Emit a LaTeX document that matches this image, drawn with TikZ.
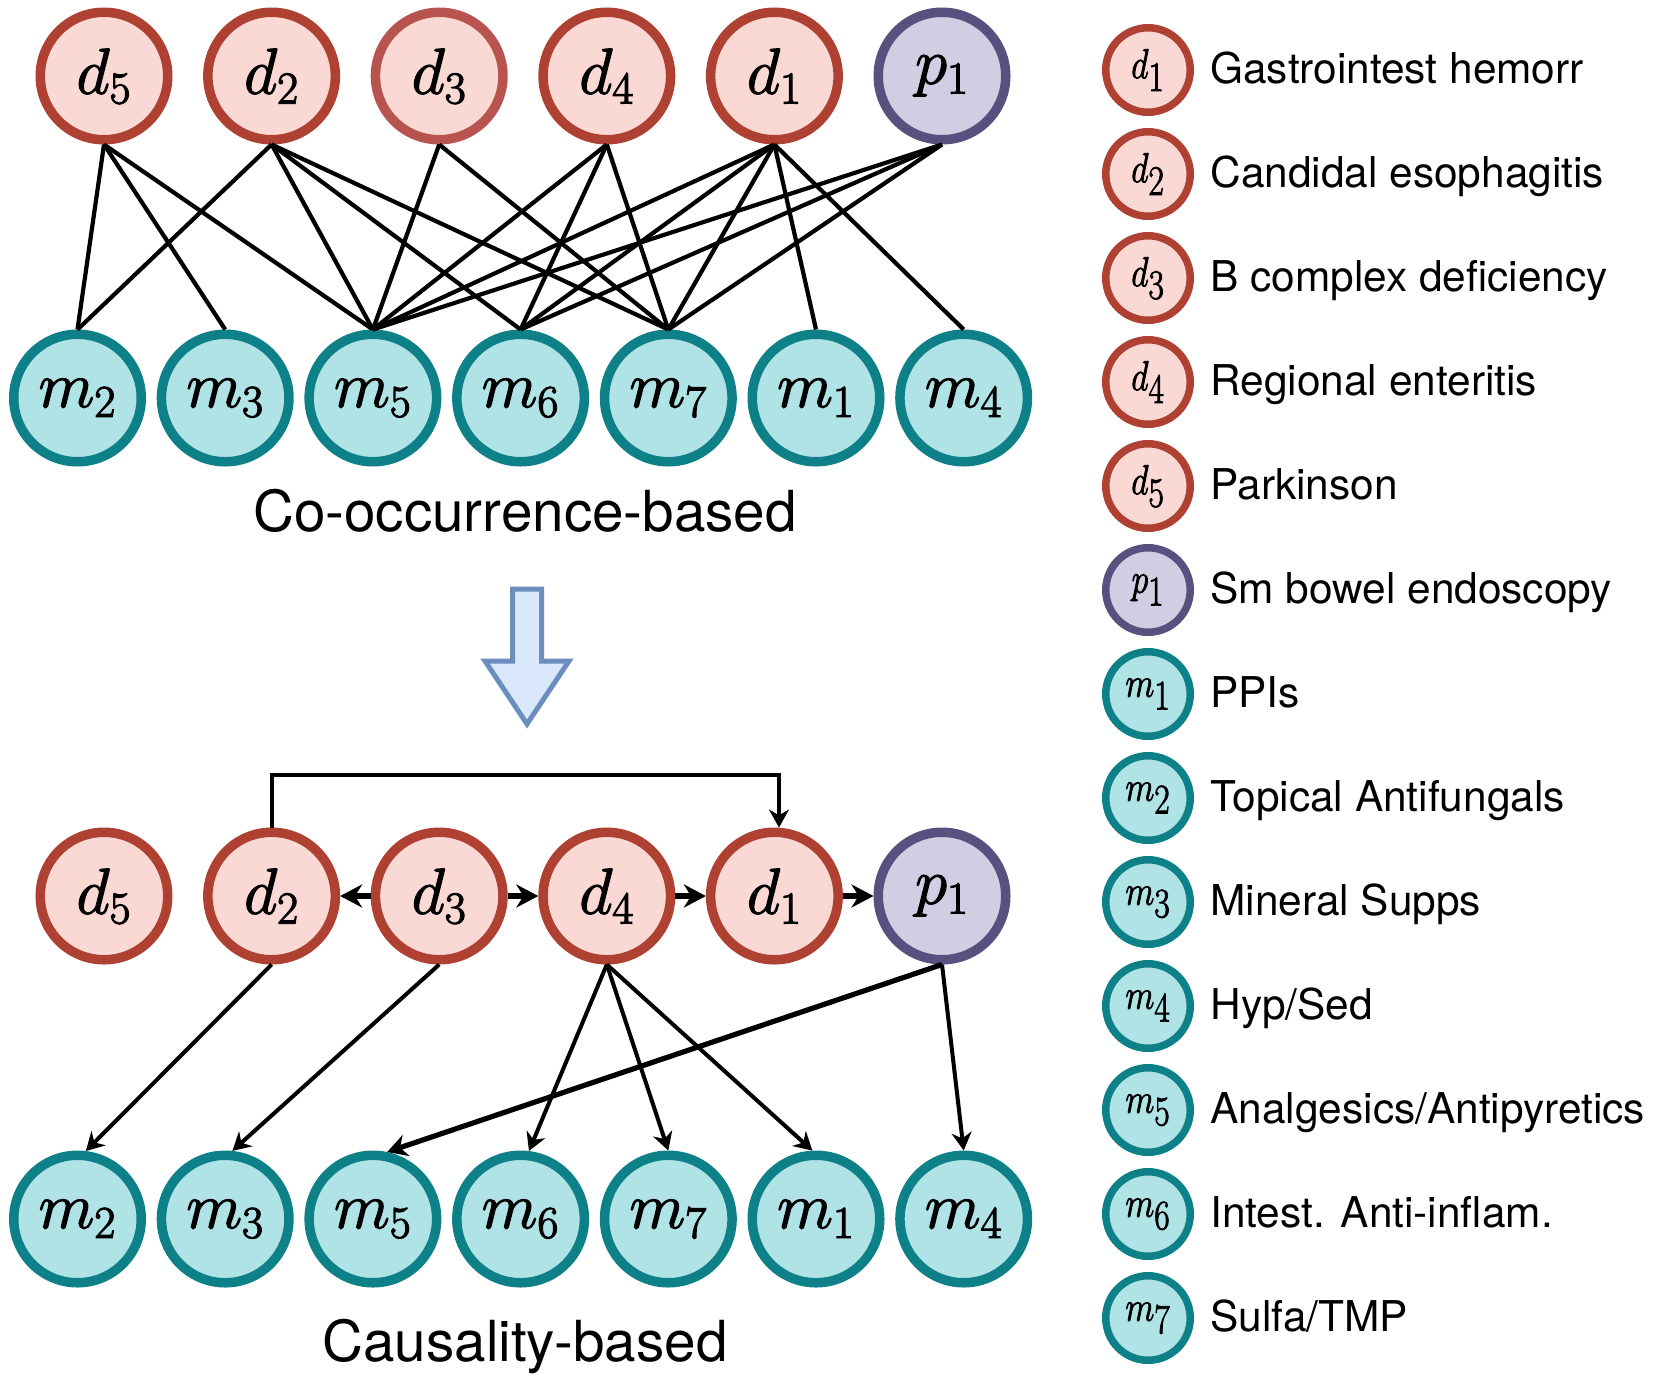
\RequirePackage{fix-cm}
\documentclass[tikz,border=0pt]{standalone}
\usepackage[no-math]{fontspec}
\newfontfamily\labfont{TeX Gyre Heros}
\usetikzlibrary{arrows.meta}
\definecolor{dfill}{HTML}{FAD9D5}
\definecolor{dstroke}{HTML}{AE4132}
\definecolor{dstrokelight}{HTML}{B85450}
\definecolor{pfill}{HTML}{D0CEE2}
\definecolor{pstroke}{HTML}{56517E}
\definecolor{mfill}{HTML}{B0E3E6}
\definecolor{mstroke}{HTML}{0E8088}
\definecolor{arrfill}{HTML}{DAE8FC}
\definecolor{arrstroke}{HTML}{6C8EBF}
% slightly heavier math glyphs (fill + thin stroke)
\newcommand\heavymath[2]{{\color{black}\special{pdf:literal direct 2 Tr #1 w}#2\special{pdf:literal direct 0 Tr}}}
\newcommand\bigmath[1]{\heavymath{0.6}{$#1$}}
\newcommand\legmath[2]{\scalebox{0.8}[1]{\heavymath{0.45}{$#1_{\textstyle #2}$}}}
\tikzset{
  big/.style={circle, minimum size=63.75pt, inner sep=0pt, line width=4.75pt, text=black, font=\fontsize{32.5}{36}\selectfont},
  dnode/.style={big, draw=dstroke, fill=dfill},
  pnode/.style={big, draw=pstroke, fill=pfill},
  mnode/.style={big, draw=mstroke, fill=mfill},
  leg/.style={circle, minimum size=42.25pt, inner sep=0pt, line width=3.75pt, text=black, font=\fontsize{21}{23}\selectfont},
  legd/.style={leg, draw=dstroke, fill=dfill},
  legp/.style={leg, draw=pstroke, fill=pfill},
  legm/.style={leg, draw=mstroke, fill=mfill},
  edge/.style={line width=2.1pt},
  arr/.style={line width=2pt, -{Stealth[length=9pt,width=10pt]}},
  midarr/.style={line width=2.6pt, -{Stealth[length=10pt,width=11pt]}},
  harr/.style={line width=3.3pt, -{Stealth[length=11pt,width=11.5pt]}},
  ltext/.style={anchor=base west, inner sep=0pt, font=\labfont\fontsize{21.2}{24}\selectfont},
  ttext/.style={anchor=base, inner sep=0pt, font=\labfont\fontsize{28.3}{32}\selectfont},
  bigarrow/.style={line width=2.5pt, draw=arrstroke, fill=arrfill, line join=miter},
}
\begin{document}
\begin{tikzpicture}[x=0.5pt, y=-0.5pt]
\useasboundingbox (0,0) rectangle (1663,1381);

% ---------- Co-occurrence-based ----------
\node[dnode] (td5) at (104,76) {\bigmath{d_5}};
\node[dnode] (td2) at (271.6,76) {\bigmath{d_2}};
\node[dnode, draw=dstrokelight] (td3) at (439.2,76) {\bigmath{d_3}};
\node[dnode] (td4) at (606.8,76) {\bigmath{d_4}};
\node[dnode] (td1) at (774.4,76) {\bigmath{d_1}};
\node[pnode] (tp1) at (942,76) {\bigmath{p_1}};

\node[mnode] (tm2) at (77.5,398) {\bigmath{m_2}};
\node[mnode] (tm3) at (225.2,398) {\bigmath{m_3}};
\node[mnode] (tm5) at (372.9,398) {\bigmath{m_5}};
\node[mnode] (tm6) at (520.6,398) {\bigmath{m_6}};
\node[mnode] (tm7) at (668.3,398) {\bigmath{m_7}};
\node[mnode] (tm1) at (816,398) {\bigmath{m_1}};
\node[mnode] (tm4) at (963.7,398) {\bigmath{m_4}};

\foreach \a/\b in {d5/m2,d5/m3,d5/m5,d2/m2,d2/m5,d2/m6,d2/m7,d3/m5,d3/m7,d4/m5,d4/m6,d4/m7,d1/m5,d1/m6,d1/m7,d1/m1,d1/m4,p1/m5,p1/m6,p1/m7}
  \draw[edge] (t\a.south) -- (t\b.north);

\node[ttext] (title1) at (525,531.7) {Co-occurrence-based};

% ---------- transition arrow ----------
\draw[bigarrow] (512.5,589) -- (541.5,589) -- (541.5,661) -- (569,661) -- (527,724) -- (485,661) -- (512.5,661) -- cycle;

% ---------- Causality-based ----------
\node[dnode] (bd5) at (104,896) {\bigmath{d_5}};
\node[dnode] (bd2) at (271.6,896) {\bigmath{d_2}};
\node[dnode] (bd3) at (439.2,896) {\bigmath{d_3}};
\node[dnode] (bd4) at (606.8,896) {\bigmath{d_4}};
\node[dnode] (bd1) at (774.4,896) {\bigmath{d_1}};
\node[pnode] (bp1) at (942,896) {\bigmath{p_1}};

\node[mnode] (bm2) at (77.5,1219) {\bigmath{m_2}};
\node[mnode] (bm3) at (225.2,1219) {\bigmath{m_3}};
\node[mnode] (bm5) at (372.9,1219) {\bigmath{m_5}};
\node[mnode] (bm6) at (520.6,1219) {\bigmath{m_6}};
\node[mnode] (bm7) at (668.3,1219) {\bigmath{m_7}};
\node[mnode] (bm1) at (816,1219) {\bigmath{m_1}};
\node[mnode] (bm4) at (963.7,1219) {\bigmath{m_4}};

\coordinate (bk) at (779,775);
\draw[arr] (bd2.north) |- (bk) -- (bk |- bd1.north);

\draw[harr] (bd3.west) -- (bd2.east);
\draw[harr] (bd3.east) -- (bd4.west);
\draw[harr] (bd4.east) -- (bd1.west);
\draw[harr] (bd1.east) -- (bp1.west);

\draw[arr] (bd2.south) -- (bm2.83);
\draw[arr] (bd3.south) -- (bm3.84);
\draw[arr] (bd4.south) -- (bm6.83);
\draw[arr] (bd4.south) -- (bm7.north);
\draw[arr] (bd4.south) -- (bm1.93);
\draw[midarr] (bp1.south) -- (bm5.78);
\draw[arr] (bp1.south) -- (bm4.north);

\node[ttext] (title2) at (525,1361.7) {Causality-based};

% ---------- legend ----------
\node[legd] (l1) at (1148,70) {\legmath{d}{1}};
\node[ltext] (t1) at (1210,83.5) {Gastrointest hemorr};
\node[legd] (l2) at (1148,174) {\legmath{d}{2}};
\node[ltext] (t2) at (1210,187.5) {Candidal esophagitis};
\node[legd] (l3) at (1148,278) {\legmath{d}{3}};
\node[ltext] (t3) at (1210,291.5) {B complex deficiency};
\node[legd] (l4) at (1148,382) {\legmath{d}{4}};
\node[ltext] (t4) at (1210,395.5) {Regional enteritis};
\node[legd] (l5) at (1148,486) {\legmath{d}{5}};
\node[ltext] (t5) at (1210,499.5) {Parkinson};
\node[legp] (l6) at (1148,590) {\legmath{p}{1}};
\node[ltext] (t6) at (1210,603.5) {Sm bowel endoscopy};
\node[legm] (l7) at (1148,694) {\legmath{m}{1}};
\node[ltext] (t7) at (1210,707.5) {PPIs};
\node[legm] (l8) at (1148,798) {\legmath{m}{2}};
\node[ltext] (t8) at (1210,811.5) {Topical Antifungals};
\node[legm] (l9) at (1148,902) {\legmath{m}{3}};
\node[ltext] (t9) at (1210,915.5) {Mineral Supps};
\node[legm] (l10) at (1148,1006) {\legmath{m}{4}};
\node[ltext] (t10) at (1210,1019.5) {Hyp/Sed};
\node[legm] (l11) at (1148,1110) {\legmath{m}{5}};
\node[ltext] (t11) at (1210,1123.5) {Analgesics/Antipyretics};
\node[legm] (l12) at (1148,1214) {\legmath{m}{6}};
\node[ltext] (t12) at (1210,1227.5) {Intest. Anti-inflam.};
\node[legm] (l13) at (1148,1318) {\legmath{m}{7}};
\node[ltext] (t13) at (1210,1331.5) {Sulfa/TMP};
\end{tikzpicture}
\end{document}
